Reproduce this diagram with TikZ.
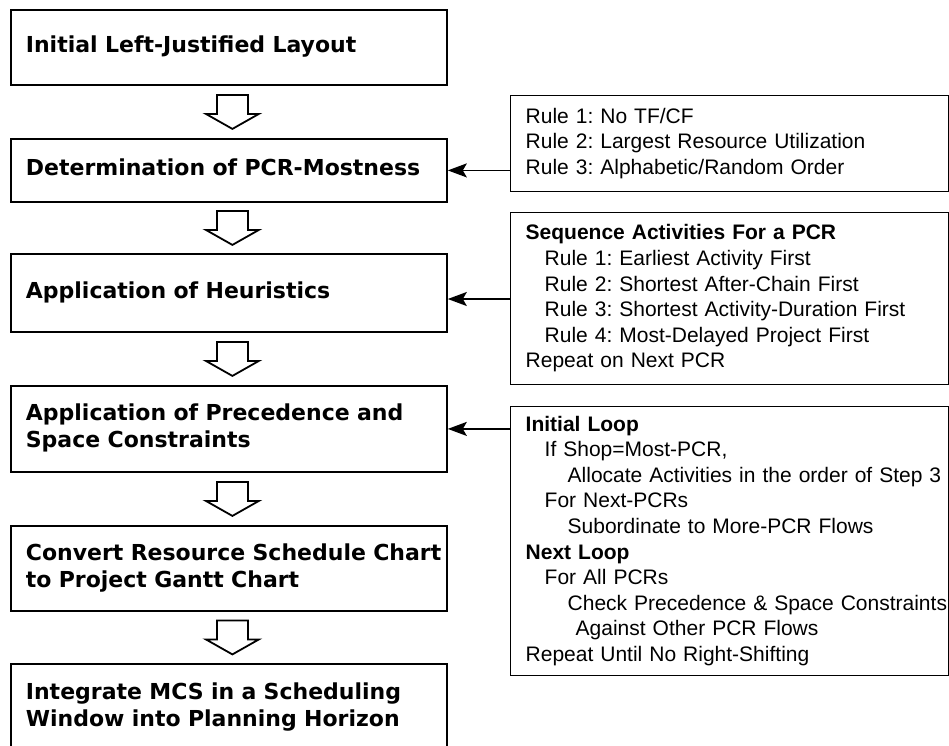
\documentclass[tikz,border=0pt]{standalone}
\usepackage{fontspec}
\setmainfont{Liberation Sans}
\newfontfamily\boxfont{DejaVu Sans}
\usetikzlibrary{arrows.meta,calc}
\hfuzz=200pt
\hbadness=10000
\frenchspacing
\tikzset{
  lbox/.style={draw, line width=1.8pt, anchor=north west, text width=406pt,
    inner xsep=15pt, inner ysep=0pt, align=left,
    font=\boxfont\bfseries\fontsize{22}{27}\selectfont},
  rbox/.style={draw, line width=1.4pt, anchor=north west, text width=408pt,
    inner xsep=15pt, inner ysep=0pt, align=left,
    font=\fontsize{21}{25.6}\selectfont},
  hol/.style={draw, fill=white, line width=1.8pt, line join=miter},
  conn/.style={line width=1.8pt, -{Stealth[length=19pt,width=14pt,inset=4pt]}},
}
\newcommand\ia{\hspace*{19pt}}
\newcommand\ib{\hspace*{42pt}}
\newcommand\ic{\hspace*{50pt}}
\newcommand\lines[1]{\begin{tabular}{@{}l@{}}#1\end{tabular}}
\begin{document}
\begin{tikzpicture}[x=1pt,y=-1pt]
\useasboundingbox (0,0) rectangle (949,745);
\clip (0,0) rectangle (949,745);
\fill[white] (0,0) rectangle (949,745);

% left column
\node[lbox, minimum height=75pt] (b1) at (10,9) {\lines{Initial Left-Justified Layout}};
\node[lbox, minimum height=63pt] (b2) at (10,138) {\lines{Determination of PCR-Mostness}};
\node[lbox, minimum height=78pt] (b3) at (10,253) {\lines{Application of Heuristics}};
\node[lbox, minimum height=86pt] (b4) at (10,385) {\lines{Application of Precedence and\\Space Constraints}};
\node[lbox, minimum height=85pt] (b5) at (10,525) {\lines{Convert Resource Schedule Chart\\to Project Gantt Chart}};
\node[lbox, minimum height=88pt] (b6) at (10,663) {\lines{Integrate MCS in a Scheduling\\Window into Planning Horizon}};

% hollow arrows
\foreach \u/\v in {b1/b2,b2/b3,b3/b4,b4/b5,b5/b6}{
  \coordinate (m) at ($(\u.south)!0.5!(\v.north)+(3.5,0)$);
  \draw[hol] ($(m)+(-15.5,-17)$) -- ++(0,19) -- ++(-11,0) -- ++(26.5,15)
    -- ++(26.5,-15) -- ++(-11,0) -- ++(0,-19) -- cycle;
}

% right column
\node[rbox, minimum height=96pt] (r1) at (510,95) {\lines{%
Rule 1: No TF/CF\\
Rule 2: Largest Resource Utilization\\
Rule 3: Alphabetic/Random Order}};
\node[rbox, minimum height=172pt] (r2) at (510,212) {\lines{%
\textbf{Sequence Activities For a PCR}\\
\ia Rule 1: Earliest Activity First\\
\ia Rule 2: Shortest After-Chain First\\
\ia Rule 3: Shortest Activity-Duration First\\
\ia Rule 4: Most-Delayed Project First\\
Repeat on Next PCR}};
\node[rbox, minimum height=269pt] (r3) at (510,406) {\lines{%
\textbf{Initial Loop}\\
\ia If Shop=Most-PCR,\\
\ib Allocate Activities in the order of Step 3\\
\ia For Next-PCRs\\
\ib Subordinate to More-PCR Flows\\
\textbf{Next Loop}\\
\ia For All PCRs\\
\ib Check Precedence \& Space Constraints\\
\ic Against Other PCR Flows\\
Repeat Until No Right-Shifting}};

% connectors
\draw[conn] (r1.west |- b2.east) -- (b2.east);
\coordinate (h3) at (446,299);
\draw[conn] (r2.west |- h3) -- (b3.east |- h3);
\draw[conn] (r3.west |- b4.east) -- (b4.east);
\end{tikzpicture}
\end{document}
